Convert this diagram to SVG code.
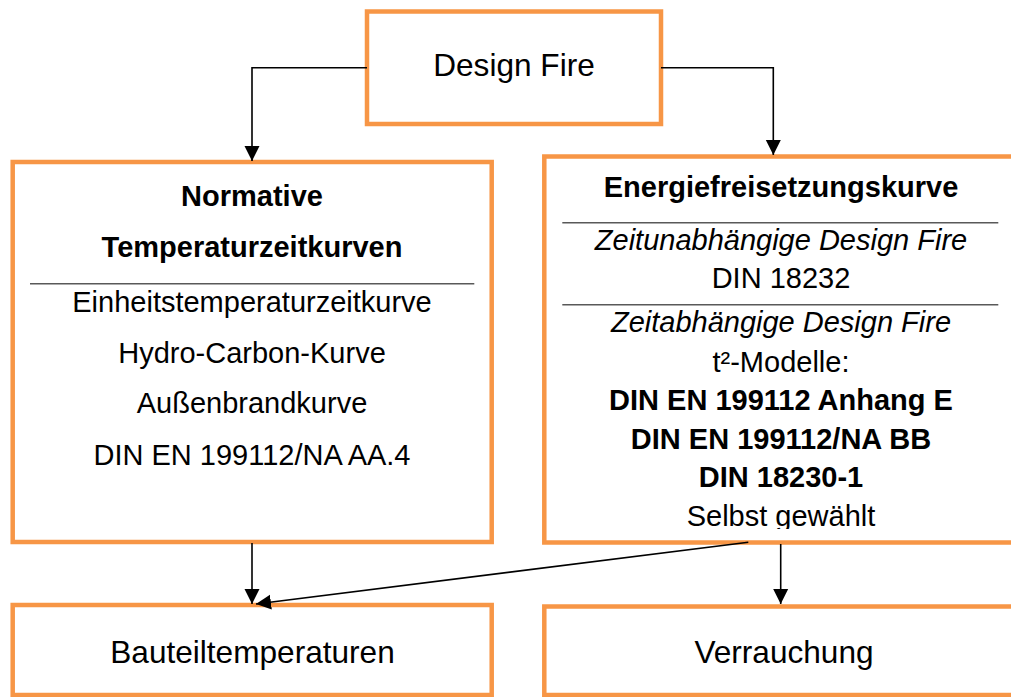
<svg xmlns="http://www.w3.org/2000/svg" width="1011" height="697" viewBox="0 0 1011 697">
<style>
.box{fill:#fff;stroke:#F79646;stroke-width:4.5}
.div{stroke:#595959;stroke-width:1.5}
.con{fill:none;stroke:#000;stroke-width:1.6}
text{font-family:"Liberation Sans",Arial,sans-serif;fill:#000;text-anchor:middle}
.t{font-size:29px}
.b{font-size:29px;font-weight:bold}
.i{font-size:29px;font-style:italic}
.big{font-size:31.6px}
</style>
<defs>
<marker id="arr" markerUnits="userSpaceOnUse" markerWidth="16" markerHeight="16" refX="15" refY="8" orient="auto">
<path d="M0,0.5 L15,8 L0,15.5 Z" fill="#000"/>
</marker>
<clipPath id="cut"><rect x="544" y="490" width="474" height="39"/></clipPath>
</defs>
<g id="design-fire">
<rect class="box" x="367" y="11.5" width="294" height="112.5"/>
<text class="big" x="514" y="76">Design Fire</text>
</g>
<g id="normative">
<rect class="box" x="12.7" y="162" width="479" height="380"/>
<text class="b" x="252" y="206">Normative</text>
<text class="b" x="252" y="256.7">Temperaturzeitkurven</text>
<line class="div" x1="30" y1="283.7" x2="474.3" y2="283.7"/>
<text class="t" x="252" y="311.7">Einheitstemperaturzeitkurve</text>
<text class="t" x="252" y="363.3">Hydro-Carbon-Kurve</text>
<text class="t" x="252" y="413.3">Außenbrandkurve</text>
<text class="t" x="252" y="465">DIN EN 199112/NA AA.4</text>
</g>
<g id="energie">
<rect class="box" x="544.3" y="156.5" width="474" height="386"/>
<text class="b" x="781" y="196.7">Energiefreisetzungskurve</text>
<line class="div" x1="562.3" y1="222.7" x2="998.3" y2="222.7"/>
<text class="i" x="781" y="250">Zeitunabhängige Design Fire</text>
<text class="t" x="781" y="288.3">DIN 18232</text>
<line class="div" x1="562.3" y1="304.7" x2="998.3" y2="304.7"/>
<text class="i" x="781" y="332.3">Zeitabhängige Design Fire</text>
<text class="t" x="781" y="371.7">t²-Modelle:</text>
<text class="b" x="781" y="410">DIN EN 199112 Anhang E</text>
<text class="b" x="781" y="448.7">DIN EN 199112/NA BB</text>
<text class="b" x="781" y="487.3">DIN 18230-1</text>
<text class="t" x="781" y="526" clip-path="url(#cut)">Selbst gewählt</text>
</g>
<g id="bauteil">
<rect class="box" x="12.7" y="605" width="479" height="90"/>
<text class="big" x="252.5" y="663.3">Bauteiltemperaturen</text>
</g>
<g id="verrauchung">
<rect class="box" x="544.3" y="606.5" width="474" height="88.5"/>
<text class="big" x="784" y="663.3">Verrauchung</text>
</g>
<g id="connectors">
<path class="con" d="M367,67.7 H252 V161" marker-end="url(#arr)"/>
<path class="con" d="M661,67.7 H773.3 V155" marker-end="url(#arr)"/>
<path class="con" d="M252,543 V604" marker-end="url(#arr)"/>
<path class="con" d="M748.3,542.3 L256,604" marker-end="url(#arr)"/>
<path class="con" d="M780.7,544 V604" marker-end="url(#arr)"/>
</g>
</svg>
